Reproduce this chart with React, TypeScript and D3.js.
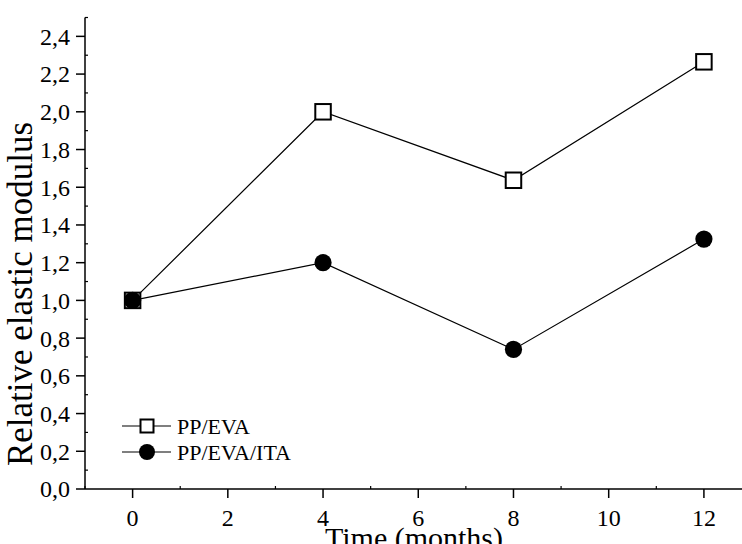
import React from "react";
import * as d3 from "d3";

const months = [0, 4, 8, 12];
const ppEva = [1.0, 2.0, 1.637, 2.265];
const ppEvaIta = [1.0, 1.2, 0.74, 1.325];
const xTicks = [0, 2, 4, 6, 8, 10, 12];
const xMinor = [-1, 1, 3, 5, 7, 9, 11];
const yTicks = [0, 0.2, 0.4, 0.6, 0.8, 1.0, 1.2, 1.4, 1.6, 1.8, 2.0, 2.2, 2.4];
const yMinor = [0.1, 0.3, 0.5, 0.7, 0.9, 1.1, 1.3, 1.5, 1.7, 1.9, 2.1, 2.3, 2.5];
const seriesNames = ["PP/EVA", "PP/EVA/ITA"];

const W = 742;
const H = 544;
const FONT = "'Liberation Serif', 'Times New Roman', serif";

export default function App() {
  const x = d3.scaleLinear().domain([-1, 12.8]).range([85, 742]);
  const y = d3.scaleLinear().domain([0, 2.5]).range([489, 17.5]);
  const line = d3
    .line<[number, number]>()
    .x((d) => x(d[0]))
    .y((d) => y(d[1]));
  const fmt = (v: number) => v.toFixed(1).replace(".", ",");
  const d1 = months.map((m, i) => [m, ppEva[i]] as [number, number]);
  const d2 = months.map((m, i) => [m, ppEvaIta[i]] as [number, number]);
  const sq = 15.5;
  const r = 8.6;
  const x0 = x.range()[0];
  const yb = y.range()[0];

  return (
    <svg
      width={W}
      height={H}
      style={{ position: "absolute", left: 0, top: 0, background: "#fff" }}
      fontFamily={FONT}
    >
      <rect width={W} height={H} fill="#fff" />
      {/* axes */}
      <line x1={x0} x2={x0} y1={y(2.5)} y2={yb} stroke="#000" strokeWidth={1.5} />
      <line x1={x0} x2={W} y1={yb} y2={yb} stroke="#000" strokeWidth={1.5} />
      {yTicks.map((t) => (
        <g key={"yt" + t}>
          <line x1={x0 - 9} x2={x0} y1={y(t)} y2={y(t)} stroke="#000" strokeWidth={1.5} />
          <text x={x0 - 15} y={y(t)} dy="0.35em" textAnchor="end" fontSize={24}>
            {fmt(t)}
          </text>
        </g>
      ))}
      {yMinor.map((t) => (
        <line key={"ym" + t} x1={x0} x2={x0 + 3} y1={y(t)} y2={y(t)} stroke="#000" strokeWidth={1.2} />
      ))}
      {xTicks.map((t) => (
        <g key={"xt" + t}>
          <line x1={x(t)} x2={x(t)} y1={yb} y2={yb + 9} stroke="#000" strokeWidth={1.5} />
          <text x={x(t)} y={526} textAnchor="middle" fontSize={24}>
            {t}
          </text>
        </g>
      ))}
      {xMinor.map((t) => (
        <line key={"xm" + t} x1={x(t)} x2={x(t)} y1={yb} y2={yb - 3} stroke="#000" strokeWidth={1.2} />
      ))}
      <text x={414} y={548} textAnchor="middle" fontSize={30}>
        Time (months)
      </text>
      <text
        transform={`translate(32, ${294}) rotate(-90)`}
        textAnchor="middle"
        fontSize={35}
      >
        Relative elastic modulus
      </text>

      {/* series */}
      <path d={line(d1) || ""} fill="none" stroke="#000" strokeWidth={1.2} />
      <path d={line(d2) || ""} fill="none" stroke="#000" strokeWidth={1.2} />
      {d1.map((d, i) => (
        <rect
          key={"s" + i}
          x={x(d[0]) - sq / 2}
          y={y(d[1]) - sq / 2}
          width={sq}
          height={sq}
          fill="#fff"
          stroke="#000"
          strokeWidth={2}
        />
      ))}
      {d2.map((d, i) => (
        <circle key={"c" + i} cx={x(d[0])} cy={y(d[1])} r={r} fill="#000" />
      ))}

      {/* legend */}
      <g>
        <line x1={122} x2={171} y1={426} y2={426} stroke="#000" strokeWidth={1.2} />
        <rect x={147 - 6.5} y={426 - 6.5} width={13} height={13} fill="#fff" stroke="#000" strokeWidth={2} />
        <text x={177} y={426} dy="0.35em" fontSize={22}>
          {seriesNames[0]}
        </text>
        <line x1={122} x2={171} y1={452} y2={452} stroke="#000" strokeWidth={1.2} />
        <circle cx={147} cy={452} r={8} fill="#000" />
        <text x={177} y={452} dy="0.35em" fontSize={22}>
          {seriesNames[1]}
        </text>
      </g>
    </svg>
  );
}
